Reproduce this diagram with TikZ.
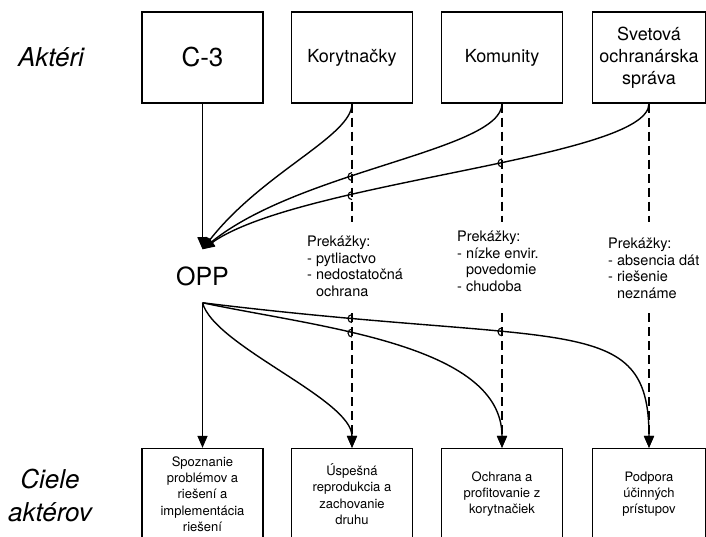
\documentclass[tikz,border=0pt]{standalone}
\usepackage{fontspec}
\setmainfont{TeX Gyre Heros}
\usetikzlibrary{positioning,intersections,arrows.meta}

\tikzset{
  box/.style={draw, line width=1.3pt, minimum width=121pt, minimum height=91pt, align=center, inner sep=2pt},
  link/.style={line width=1.4pt},
  hint/.style={line width=1.5pt, dash pattern=on 9pt off 5pt},
  tip/.style={-{Triangle[length=12pt,width=10pt]}},
  note/.style={align=left, inner sep=0pt, anchor=north west, font=\fontsize{14.5}{16.5}\selectfont},
  side/.style={align=center, font=\fontsize{26}{33}\selectfont\itshape},
}

\begin{document}
\begin{tikzpicture}[x=1pt,y=-1pt]
\useasboundingbox (0,0) rectangle (706,536);

\def\xa{202.5}
\def\xb{352}
\def\xc{502}
\def\xd{649}

\def\ytop{57.5}
\def\ybot{494}
\def\ya{222}
\def\yb{313}

\node[side] (akt) at (51,57) {Aktéri};
\node[side] (ciele) at (50,495) {Ciele\\aktérov};

\node[box, font=\fontsize{26}{30}\selectfont] (c3) at (\xa,\ytop) {C-3};
\node[box, font=\fontsize{18}{22}\selectfont] (kor) at (\xb,\ytop) {Korytnačky};
\node[box, font=\fontsize{18}{22}\selectfont] (kom) at (\xc,\ytop) {Komunity};
\node[box, font=\fontsize{18}{22}\selectfont, minimum width=113pt] (svet) at (\xd,\ytop) {Svetová\\ochranárska\\správa};

\node[box, font=\fontsize{13}{16.3}\selectfont] (spoz) at (\xa,\ybot) {Spoznanie\\problémov a\\riešení a\\implementácia\\riešení};
\node[box, font=\fontsize{13}{16.3}\selectfont] (usp) at (\xb,\ybot) {Úspešná\\reprodukcia a\\zachovanie\\druhu};
\node[box, font=\fontsize{13}{16.3}\selectfont] (ochr) at (\xc,\ybot) {Ochrana a\\profitovanie z\\korytnačiek};
\node[box, font=\fontsize{13}{16.3}\selectfont, minimum width=113pt] (podp) at (\xd,\ybot) {Podpora\\účinných\\prístupov};

\node[font=\fontsize{25}{30}\selectfont, inner xsep=0pt, inner ysep=17pt] (opp) at (\xa,276) {OPP};

\node[note] (kornote) at (307,236) {Prekážky:\\- pytliactvo\\- nedostatočná\\\phantom{- }ochrana};
\node[note] (komnote) at (457,231) {Prekážky:\\- nízke envir.\\\phantom{- }povedomie\\- chudoba};
\node[note] (svetnote) at (608,238) {Prekážky:\\- absencia dát\\- riešenie\\\phantom{- }neznáme};

\coordinate (kd1) at (\xb,\ya);
\coordinate (md1) at (\xc,\ya);
\coordinate (sd1) at (\xd,\ya);
\coordinate (kd2) at (\xb,\yb);
\coordinate (md2) at (\xc,\yb);
\coordinate (sd2) at (\xd,\yb);

\draw[hint, name path=kordash1] (kor.south) -- (kd1);
\draw[hint, name path=komdash1] (kom.south) -- (md1);
\draw[hint] (svet.south) -- (sd1);
\draw[hint, tip, name path=kordash2] (kd2) -- (usp.north);
\draw[hint, tip, name path=komdash2] (md2) -- (ochr.north);
\draw[hint, tip] (sd2) -- (podp.north);

\draw[link, tip] (c3.south) -- (opp.north);
\draw[link, tip] (kor.south) to [out=-90, in=52, out looseness=0.4, in looseness=1.2] (opp.north);
\draw[link, tip, name path=komcurve] (kom.south) to [out=-90, in=39, out looseness=0.36, in looseness=0.97] (opp.north);
\draw[link, tip, name path=svetcurve] (svet.south) to [out=-90, in=35, out looseness=0.3, in looseness=0.65] (opp.north);

\draw[link, tip] (opp.south) -- (spoz.north);
\draw[link, tip] (opp.south) to [out=-75, in=90, out looseness=0.55, in looseness=0.6] (usp.north);
\draw[link, tip, name path=ochrcurve] (opp.south) to [out=-12, in=90, out looseness=0.9, in looseness=0.8] (ochr.north);
\draw[link, tip, name path=podpcurve] (opp.south) to [out=-7, in=90, out looseness=2, in looseness=0.75] (podp.north);

\path[name intersections={of=komcurve and kordash1, by=h1}];
\path[name intersections={of=svetcurve and kordash1, by=h2}];
\path[name intersections={of=svetcurve and komdash1, by=h3}];
\path[name intersections={of=ochrcurve and kordash2, by=h4}];
\path[name intersections={of=podpcurve and kordash2, by=h5}];
\path[name intersections={of=podpcurve and komdash2, by=h6}];

\foreach \h in {h1,h2,h3,h4,h5,h6}
  \draw[line width=1.1pt] ([yshift=4pt]\h) arc [start angle=90, end angle=270, radius=4pt];

\end{tikzpicture}
\end{document}
